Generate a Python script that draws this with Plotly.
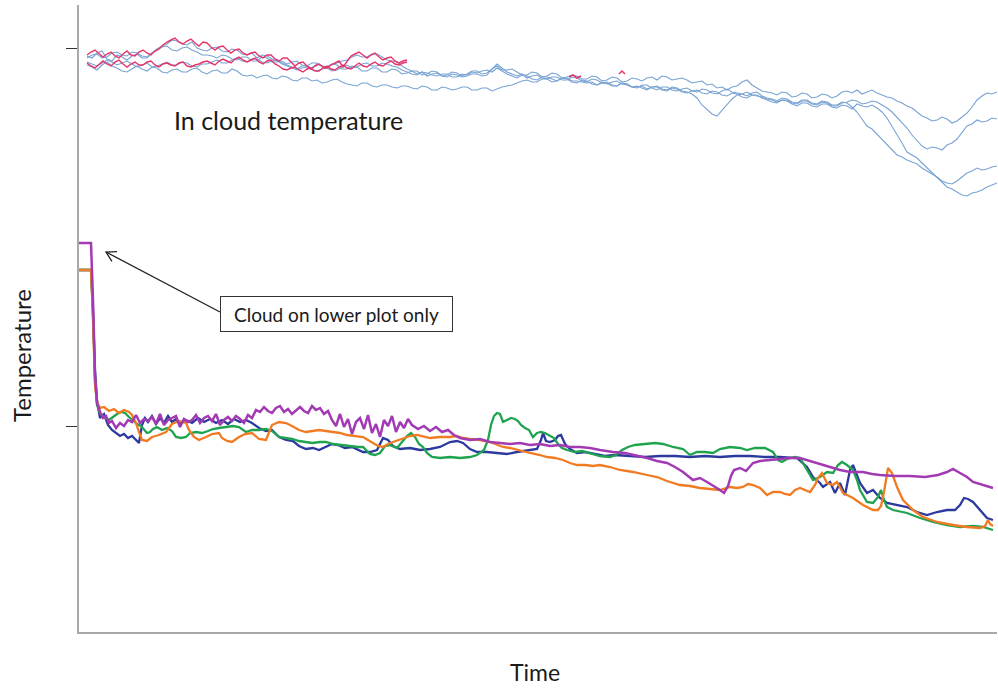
import plotly.graph_objects as go

# ---------------- lower plot (cloud on lower sensor) ----------------
purple_t = [79,91,93,95,97,100,103,106,109,112,116,120,124,128,132,136,140,144,148,152,156,160,164,168,172,176,180,184,188,192,196,200,204,208,212,216,220,224,228,232,236,240,244,248,252,256,260,264,268,272,276,280,284,288,292,296,300,304,308,312,316,320,324,328,332,336,340,344,348,352,356,360,364,368,372,376,380,384,388,392,396,400,404,408,412,418,424,430,436,442,448,454,460,470,480,490,500,510,520,530,540,550,560,570,580,590,600,613,625,635,647,657,667,675,683,693,700,707,714,720,724,728,731,734,740,746,753,760,770,780,790,800,813,822,830,840,850,863,872,880,895,910,925,938,947,953,960,967,973,983,993]
purple_v = [389,389,332,257,229,220,
            214,216,209,211,204,209,206,212,210,217,209,213,211,215,208,218,207,212,214,216,205,213,210,212,217,209,214,216,211,218,207,212,215,211,216,213,209,217,214,
            222,220,225,221,219,224,226,220,223,218,222,225,221,219,226,222,224,218,221,
            212,206,218,205,213,198,210,214,203,217,199,208,195,212,206,216,200,210,204,213,207,
            203,206,201,205,200,202,197,194,192,193,190,189,188,189,187,188,186,187,185,185,184,182,180,179,177,174,171,169,165,160,152,154,150,146,142,139,146,156,162,164,161,169,171,172,173,174,174,170,167,165,162,160,160,158,157,156,156,155,157,160,163,159,155,150,147,144]

navy_t = [79,91,93,95,97,100,104,108,112,116,120,124,128,132,136,139,142,145,148,152,156,160,164,168,172,176,180,186,192,198,204,210,216,222,228,234,240,246,252,259,266,272,279,286,293,299,306,313,319,326,332,338,345,352,358,363,370,377,383,388,393,400,410,420,430,440,450,457,463,470,477,487,497,507,517,523,530,537,541,543,546,550,555,558,561,565,570,577,585,595,605,615,630,645,660,675,690,705,720,735,750,765,780,797,807,813,820,823,830,835,840,845,850,853,860,867,873,880,887,897,907,917,927,937,947,955,960,964,968,973,980,987,993]
navy_v = [362,362,322,262,232,214,218,207,202,199,196,198,194,196,192,189,207,214,210,216,208,214,209,216,210,213,208,212,209,214,210,213,209,212,208,213,210,212,209,204,201,202,195,192,191,186,183,184,182,185,188,187,184,185,182,180,180,182,194,192,186,183,184,182,183,185,190,191,189,183,180,180,179,178,180,181,182,183,192,199,191,190,192,196,197,188,183,179,180,178,176,177,176,175,176,176,175,176,175,176,176,175,175,174,165,155,149,145,150,139,149,137,162,167,149,139,142,134,129,127,125,120,117,120,122,122,127,134,133,130,122,114,112]

orange_t = [79,91,93,95,97,100,104,109,114,119,124,129,132,136,139,142,147,152,159,166,172,179,186,189,194,199,206,212,219,222,227,232,239,245,252,259,266,272,279,286,292,299,306,312,319,326,333,340,347,355,363,368,373,378,383,388,393,398,403,410,417,424,430,440,450,457,463,470,480,490,497,503,510,517,525,530,540,547,555,563,570,577,585,593,600,610,620,633,647,657,667,680,690,700,710,720,730,737,743,748,753,760,767,773,780,785,790,795,800,806,810,815,818,822,827,833,837,843,853,863,873,878,881,884,886,888,892,897,903,913,923,937,953,967,980,985,988,990,993]
orange_v = [362,362,312,247,230,224,225,221,223,219,222,220,217,209,200,192,191,195,197,200,208,211,209,202,195,192,195,198,199,194,191,190,195,198,199,193,192,207,210,209,206,202,200,201,202,201,200,199,197,196,195,192,189,186,185,188,190,192,194,196,197,195,194,195,195,196,194,193,192,190,187,185,184,182,180,179,177,175,174,172,169,167,167,166,167,165,162,160,157,155,151,147,146,144,143,142,145,144,145,148,147,144,137,140,140,138,137,142,144,142,140,147,154,159,149,147,150,139,134,127,122,122,126,140,154,164,159,145,132,122,115,110,107,105,104,106,112,108,106]

green_t = [79,91,93,95,97,100,105,109,113,117,121,125,129,133,137,141,144,147,150,153,157,162,167,172,176,181,186,190,196,202,208,213,219,226,233,239,246,252,259,266,272,279,286,292,299,306,312,320,326,333,340,350,358,363,370,375,380,385,390,397,402,407,411,415,419,423,427,432,440,450,460,470,477,484,488,491,494,497,500,503,507,511,515,518,521,525,529,533,537,541,545,550,554,558,562,567,575,582,590,600,610,616,622,628,635,645,655,663,673,683,690,697,705,713,720,730,740,747,755,765,773,778,782,787,795,800,807,813,820,827,833,838,842,847,853,857,860,867,873,878,881,884,887,893,907,920,933,947,960,973,983,993]
green_v = [362,362,317,252,227,219,214,212,215,218,220,219,215,211,208,206,202,199,200,203,205,202,204,201,195,194,195,199,200,199,201,203,204,205,206,205,200,202,202,203,201,195,194,193,191,190,189,190,190,188,187,186,185,185,178,177,179,186,187,184,190,196,199,195,188,185,179,175,174,175,174,175,177,182,192,207,216,219,218,210,212,214,213,211,207,204,202,195,199,200,199,196,194,188,184,182,180,181,179,176,175,177,182,185,187,188,189,188,185,183,177,180,180,179,183,185,184,182,184,184,180,172,170,173,175,174,162,152,155,160,159,167,170,167,162,152,142,130,129,135,142,132,125,122,119,114,110,107,105,106,105,102]

# ---------------- upper plot (in-cloud temperature) ----------------
upper_t = [87,92,97,102,107,112,117,122,127,132,137,142,147,152,157,162,167,172,177,182,
           187,192,197,202,207,212,217,222,227,232,237,242,247,252,257,262,267,272,277,282,
           287,292,297,302,307,312,317,322,327,332,337,342,347,352,357,362,367,372,377,382,
           387,392,397,402,407,412,417,422,427,432,437,442,447,452,457,462,467,472,477,482,
           487,492,497,502,507,512,517,522,527,532,537,542,547,552,557,562,567,572,577,582,
           587,592,597,602,607,612,617,622,627,632,637,642,647,652,657,662,667,672,677,682,
           687,692,697,702,707,712,717,722,727,732,737,742,747,752,757,762,767,772,777,782,
           787,792,797,802,807,812,817,822,827,832,837,842,847,852,857,862,867,872,877,882,
           887,892,897,902,907,912,917,922,927,932,937,942,947,952,957,962,967,972,977,982,
           987,992,997]
upper_1 = [576,574,579,581,573,571,577,575,572,576,578,574,574,579,582,585,586,582,581,584,
           585,582,580,577,577,576,574,577,576,573,572,575,575,571,571,575,574,570,570,571,
           568,570,571,567,566,569,569,566,565,568,567,563,563,566,565,561,561,564,564,560,
           560,563,562,558,559,561,561,557,558,561,560,556,557,560,559,556,558,561,561,558,
           559,563,566,562,562,563,560,557,557,560,559,555,556,559,558,554,555,557,556,553,
           553,556,555,551,552,555,554,550,551,554,553,551,554,555,552,556,555,552,553,554,
           552,549,550,551,547,548,544,545,542,545,546,550,552,547,544,541,540,539,537,540,
           539,535,536,539,538,534,535,538,537,534,536,540,541,539,542,538,540,542,539,537,
           535,534,531,529,526,524,520,516,514,511,512,515,513,509,511,515,519,525,532,536,
           539,538,540]
upper_2 = [567,565,562,567,570,566,564,561,560,563,566,563,561,565,564,560,559,562,563,560,
           560,563,564,560,558,561,562,559,559,563,561,557,556,557,554,556,557,554,553,556,
           555,552,551,554,554,551,552,549,550,552,553,550,548,547,546,549,549,546,545,547,
           547,545,544,546,546,544,543,546,545,542,542,545,544,542,543,545,545,542,542,544,
           544,541,543,545,546,547,549,551,552,550,550,553,553,550,551,554,554,551,551,550,
           549,550,547,549,550,547,546,549,548,545,545,546,543,545,546,543,542,545,544,541,
           540,538,534,527,522,518,516,522,528,533,537,538,540,537,536,535,533,532,530,532,
           532,529,528,531,531,528,527,530,529,526,526,529,530,532,531,528,529,531,530,527,
           524,520,515,509,504,497,492,486,483,485,484,482,487,489,493,499,506,508,512,510,
           511,514,513]
upper_3 = [574,577,578,574,575,579,580,577,576,580,579,576,575,579,583,586,588,592,591,588,
           587,590,584,582,581,584,585,581,580,583,582,578,577,579,574,577,576,573,571,569,
           567,565,563,566,566,564,568,566,565,568,569,571,572,575,577,575,575,578,578,575,
           572,571,570,566,563,561,558,560,556,558,559,556,555,558,557,555,556,558,558,556,
           557,563,568,564,560,558,556,558,554,556,557,554,553,555,555,552,552,555,554,551,
           550,553,552,549,548,550,551,548,547,545,544,547,547,544,542,545,545,542,541,543,
           544,541,540,543,542,539,538,541,543,540,539,538,536,539,540,536,534,533,531,534,
           533,530,529,532,532,529,528,531,530,527,527,530,529,525,520,513,506,503,498,492,
           487,482,477,475,472,470,468,464,461,458,455,451,449,448,451,455,459,461,464,462,
           463,465,466]
upper_4 = [570,568,566,569,572,570,567,569,571,568,565,567,569,565,566,568,570,567,567,570,
           569,566,565,568,568,570,572,569,569,572,574,571,570,573,573,570,569,571,572,568,
           566,564,562,564,565,562,561,563,564,561,562,565,567,564,565,568,569,566,566,569,
           568,566,565,562,560,558,557,560,559,557,556,558,558,555,555,558,557,560,559,561,
           562,560,564,561,558,556,554,557,556,553,552,555,555,553,551,554,553,550,549,552,
           551,548,547,550,549,546,546,549,548,545,546,544,542,545,545,542,541,544,543,540,
           539,541,542,539,538,541,540,537,536,539,538,535,534,537,537,534,532,530,529,532,
           531,528,526,529,529,526,525,528,528,525,524,527,526,523,528,526,525,527,524,520,
           514,506,497,489,480,477,474,469,464,459,454,449,445,443,440,437,436,439,440,442,
           445,447,449]

red_t = [87,91,95,99,103,107,111,115,119,123,127,131,135,139,143,147,151,155,159,163,
         167,171,175,179,183,187,191,195,199,203,207,211,215,219,223,227,231,235,239,243,
         247,251,255,259,263,267,271,275,279,283,287,291,295,299,303,307,311,315,319,323,
         327,331,335,339,343,347,351,355,359,363,367,371,375,379,383,387,391,395,399,403,
         407]
red_1 = [577,580,582,578,575,578,580,576,574,578,581,577,576,580,582,579,577,581,583,587,
         590,592,594,590,588,591,593,589,586,590,589,585,582,585,586,582,579,582,583,579,
         577,579,580,576,574,577,577,573,571,574,574,570,566,569,570,566,563,566,568,565,
         564,567,569,571,565,571,576,578,580,577,574,577,579,575,572,574,575,571,569,571,
         572]
red_2 = [569,566,564,568,571,568,566,570,572,568,565,568,570,567,567,570,571,567,565,568,
         569,567,566,569,570,566,565,567,568,570,571,569,567,571,573,571,569,573,575,572,
         570,572,574,570,568,571,572,568,566,563,562,564,565,562,560,563,564,561,561,564,
         566,563,562,565,567,564,563,566,569,566,565,568,570,567,566,569,571,568,567,569,
         570]
red_bits_t = [569, 573, 577, 581, None, 619, 622, 625]
red_bits_v = [555, 557, 554, 556, None, 558, 561, 558]

# ---------------- tick positions (no labels on the original) ----------------
y_ticks = [206, 584]

UPPER_BLUE = "#78a3d4"
RED = "#e5356a"
FONT = "Lato, 'Open Sans', sans-serif"

fig = go.Figure()

for vals in [upper_1, upper_2, upper_3, upper_4]:
    fig.add_trace(go.Scatter(x=upper_t, y=vals, mode="lines",
                             line=dict(color=UPPER_BLUE, width=1.1)))
for vals in [red_1, red_2]:
    fig.add_trace(go.Scatter(x=red_t, y=vals, mode="lines",
                             line=dict(color=RED, width=1.4)))
fig.add_trace(go.Scatter(x=red_bits_t, y=red_bits_v, mode="lines",
                         line=dict(color=RED, width=1.5), connectgaps=False))

fig.add_trace(go.Scatter(x=navy_t, y=navy_v, mode="lines", line=dict(color="#2c3a9e", width=2.3)))
fig.add_trace(go.Scatter(x=green_t, y=green_v, mode="lines", line=dict(color="#1fa34f", width=2.3)))
fig.add_trace(go.Scatter(x=orange_t, y=orange_v, mode="lines", line=dict(color="#f07b22", width=2.3)))
fig.add_trace(go.Scatter(x=purple_t, y=purple_v, mode="lines", line=dict(color="#a23ab3", width=2.5)))

fig.update_layout(
    width=998, height=688,
    margin=dict(l=79, r=1, t=5, b=56),
    paper_bgcolor="white", plot_bgcolor="white",
    showlegend=False,
    font=dict(family=FONT, color="#1a1a1a"),
    xaxis=dict(range=[79, 997], showline=True, linecolor="#a8a8a8", linewidth=1.5,
               showgrid=False, zeroline=False, showticklabels=False, ticks=""),
    yaxis=dict(range=[0, 627], showline=True, linecolor="#a8a8a8", linewidth=1.5,
               showgrid=False, zeroline=False, showticklabels=False,
               ticks="outside", tickvals=y_ticks, ticklen=11, tickwidth=1.3,
               tickcolor="#333333"),
    annotations=[
        dict(text="Time", xref="paper", yref="paper", x=0.4967, y=-0.0638,
             xanchor="center", yanchor="middle", showarrow=False,
             font=dict(size=23, family=FONT, color="#1a1a1a")),
        dict(text="Temperature", xref="paper", yref="paper", x=-0.0621, y=0.4418,
             xanchor="center", yanchor="middle", showarrow=False, textangle=-90,
             font=dict(size=24, family=FONT, color="#1a1a1a")),
        dict(text="In cloud temperature", xref="x", yref="y", x=288, y=512,
             xanchor="center", yanchor="middle", showarrow=False,
             font=dict(size=25, family=FONT, color="#1a1a1a")),
        dict(text="Cloud on lower plot only", xref="x", yref="y", x=336.5, y=318,
             xanchor="center", yanchor="middle", showarrow=False,
             width=225, height=28, borderpad=3, bordercolor="#333333", borderwidth=1,
             bgcolor="white", font=dict(size=19, family=FONT, color="#1a1a1a")),
    ],
    shapes=[
        dict(type="line", xref="x", yref="y", x0=220, y0=320, x1=106, y1=380,
             line=dict(color="#222222", width=1.3)),
        dict(type="path", xref="x", yref="y", path="M 111.9,370.7 L 106,380 L 117,380.4",
             line=dict(color="#222222", width=1.3)),
    ],
)

fig.write_html("out.html")
